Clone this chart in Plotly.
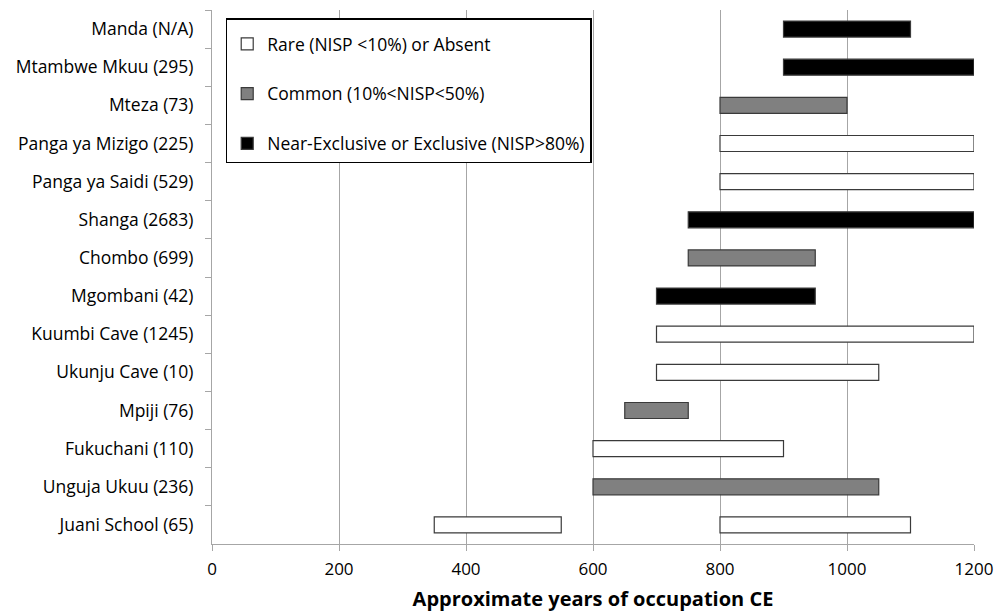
import plotly.graph_objects as go

sites = ["Manda (N/A)", "Mtambwe Mkuu (295)", "Mteza (73)", "Panga ya Mizigo (225)",
         "Panga ya Saidi (529)", "Shanga (2683)", "Chombo (699)", "Mgombani (42)",
         "Kuumbi Cave (1245)", "Ukunju Cave (10)", "Mpiji (76)", "Fukuchani (110)",
         "Unguja Ukuu (236)", "Juani School (65)"]

# occupation spans (start, end) and abundance class
bar_sites = ["Manda (N/A)", "Mtambwe Mkuu (295)", "Mteza (73)", "Panga ya Mizigo (225)",
             "Panga ya Saidi (529)", "Shanga (2683)", "Chombo (699)", "Mgombani (42)",
             "Kuumbi Cave (1245)", "Ukunju Cave (10)", "Mpiji (76)", "Fukuchani (110)",
             "Unguja Ukuu (236)", "Juani School (65)", "Juani School (65)"]
starts = [900, 900, 800, 800, 800, 750, 750, 700, 700, 700, 650, 600, 600, 350, 800]
ends = [1100, 1200, 1000, 1200, 1200, 1200, 950, 950, 1200, 1050, 750, 900, 1050, 550, 1100]
classes = ["E", "E", "C", "R", "R", "E", "C", "E", "R", "R", "C", "R", "C", "R", "R"]

class_names = {"R": "Rare (NISP <10%) or Absent",
               "C": "Common (10%<NISP<50%)",
               "E": "Near-Exclusive or Exclusive (NISP>80%)"}
class_colors = {"R": "#ffffff", "C": "#808080", "E": "#000000"}
x_ticks = [0, 200, 400, 600, 800, 1000, 1200]

FONT = "Open Sans"
fig = go.Figure()
for k in ["R", "C", "E"]:
    idx = [i for i, c in enumerate(classes) if c == k]
    fig.add_trace(go.Bar(
        y=[bar_sites[i] for i in idx],
        x=[ends[i] - starts[i] for i in idx],
        base=[starts[i] for i in idx],
        orientation="h",
        name=class_names[k],
        legendgroup=k,
        marker=dict(color=class_colors[k], line=dict(color="#3a3a3a", width=1.2)),
        width=0.42,
    ))

fig.update_layout(
    width=995, height=613,
    margin=dict(l=212, r=21, t=10, b=69, autoexpand=False),
    paper_bgcolor="white", plot_bgcolor="white",
    barmode="overlay",
    font=dict(family=FONT, size=17, color="#000000"),
    showlegend=True,
    legend=dict(x=0.018, y=0.985, xanchor="left", yanchor="top",
                bgcolor="white", bordercolor="#000000", borderwidth=1.5,
                font=dict(family=FONT, size=17.5, color="#000000"),
                title=dict(text=" ", font=dict(size=5)),
                traceorder="grouped", tracegroupgap=24,
                itemwidth=30),
    xaxis=dict(range=[0, 1200], tickvals=x_ticks, ticktext=[str(v) for v in x_ticks],
               showgrid=True, gridcolor="#a6a6a6", gridwidth=1,
               showline=True, linecolor="#a6a6a6", linewidth=1,
               ticks="outside", ticklen=6, tickcolor="#a6a6a6",
               tickfont=dict(family=FONT, size=17), ticklabelstandoff=4,
               zeroline=False, automargin=False,
               title=dict(text="<b>Approximate years of occupation CE</b>",
                          font=dict(family=FONT, size=20), standoff=12),
               fixedrange=True),
    yaxis=dict(categoryorder="array", categoryarray=sites, autorange="reversed",
               showgrid=False, showline=True, linecolor="#a6a6a6", linewidth=1,
               tickfont=dict(family=FONT, size=17.5),
               ticks="outside", tickson="boundaries", ticklen=6, tickcolor="#a6a6a6",
               ticklabelstandoff=14, automargin=False,
               fixedrange=True),
)

fig.write_html("out.html", config={"displayModeBar": False},
               post_script="document.body.style.margin='0';document.body.style.overflow='hidden';")
